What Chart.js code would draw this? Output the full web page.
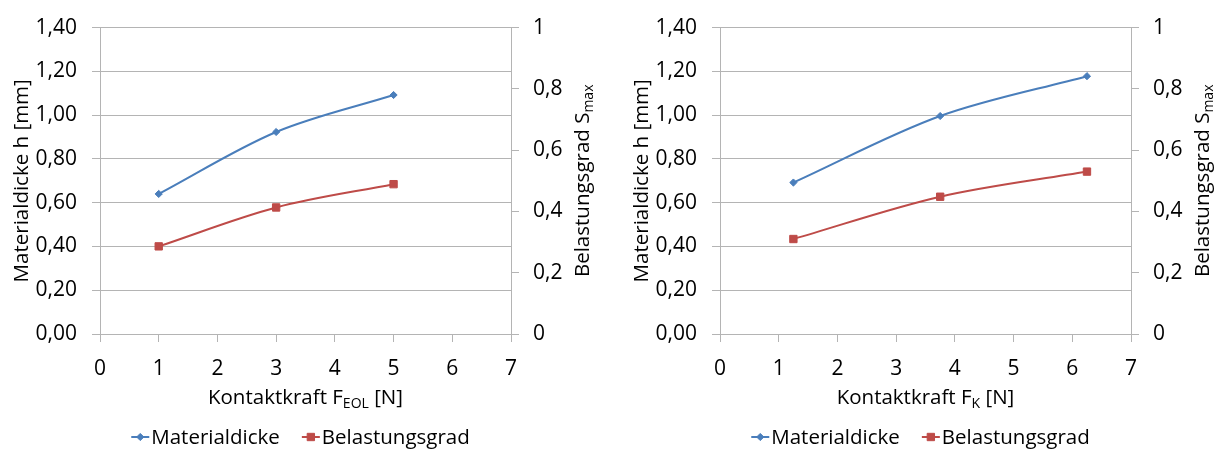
<!DOCTYPE html>
<html>
<head>
<meta charset="utf-8">
<script src="https://cdn.jsdelivr.net/npm/chart.js@4.4.1/dist/chart.umd.min.js"></script>
<style>
  html, body { margin: 0; padding: 0; background: #ffffff; }
  #wrap { position: relative; width: 1220px; height: 450px; overflow: hidden; }
  canvas { position: absolute; top: 0; }
</style>
</head>
<body>
<div id="wrap">
  <canvas id="chartEOL" width="610" height="450" style="left:0px"></canvas>
  <canvas id="chartK" width="610" height="450" style="left:610px"></canvas>
</div>
<script>
// Contact force at end of life (left) and contact force F_K (right), in N
const forceEOL = [1, 3, 5];
const forceK = [1.25, 3.75, 6.25];

// Material thickness h in mm
const thicknessEOL = [0.64, 0.923, 1.092];
const thicknessK = [0.692, 0.996, 1.178];

// Load ratio S_max (dimensionless, right axis)
const loadEOL = [0.286, 0.413, 0.489];
const loadK = [0.31, 0.448, 0.53];

// Axis tick values
const xTicks = [0, 1, 2, 3, 4, 5, 6, 7];
const hTicks = [0, 0.2, 0.4, 0.6, 0.8, 1.0, 1.2, 1.4];
const sTicks = [0, 0.2, 0.4, 0.6, 0.8, 1.0];

// Labels
const seriesNames = ['Materialdicke', 'Belastungsgrad'];
const yTitleLeft = 'Materialdicke h [mm]';
const yTitleRight = ['Belastungsgrad S', 'max'];
const xTitleEOL = ['Kontaktkraft F', 'EOL', ' [N]'];
const xTitleK = ['Kontaktkraft F', 'K', ' [N]'];

const FONT = "'Open Sans', sans-serif";
const FS = 21;
const TITLE_FS = 20.5;
const SUB_FS = 14;
const TEXT = '#000000';
const GRID = '#b4b4b4';
const BLUE = '#4a7ebb';
const RED = '#be4b48';

function commaFixed(v, d) { return v.toFixed(d).replace('.', ','); }

// Draws a text run made of normal / subscript parts, centred at the origin along x
function drawRuns(ctx, parts) {
  const runs = parts.map((t, i) => ({ t, sub: (i % 2 === 1) }));
  let total = 0;
  runs.forEach(r => {
    ctx.font = (r.sub ? SUB_FS : TITLE_FS) + 'px ' + FONT;
    r.w = ctx.measureText(r.t).width;
    total += r.w;
  });
  let x = -total / 2;
  ctx.textAlign = 'left';
  ctx.textBaseline = 'middle';
  runs.forEach(r => {
    ctx.font = (r.sub ? SUB_FS : TITLE_FS) + 'px ' + FONT;
    ctx.fillText(r.t, x, r.sub ? 6 : 0);
    x += r.w;
  });
}

const axisTitlePlugin = {
  id: 'axisTitlesSub',
  afterDraw(chart, args, opts) {
    const ctx = chart.ctx;
    const a = chart.chartArea;
    const cy = (a.top + a.bottom) / 2;
    ctx.save();
    ctx.fillStyle = TEXT;
    // left axis title
    ctx.save();
    ctx.translate(a.left + opts.leftTitleDx, cy);
    ctx.rotate(-Math.PI / 2);
    drawRuns(ctx, [opts.left]);
    ctx.restore();
    // right axis title
    ctx.save();
    ctx.translate(a.right + opts.rightTitleDx, cy);
    ctx.rotate(-Math.PI / 2);
    drawRuns(ctx, opts.right);
    ctx.restore();
    // x axis title
    ctx.save();
    ctx.translate((a.left + a.right) / 2, a.bottom + opts.xTitleDy);
    drawRuns(ctx, opts.x);
    ctx.restore();
    ctx.restore();
  }
};

const legendPlugin = {
  id: 'lineLegend',
  afterDraw(chart, args, opts) {
    const ctx = chart.ctx;
    const a = chart.chartArea;
    const sampleW = 18, textGap = 2, itemGap = 22;
    ctx.save();
    ctx.font = TITLE_FS + 'px ' + FONT;
    const items = chart.data.datasets.map(ds => ({ ds, w: ctx.measureText(ds.label).width }));
    let total = 0;
    items.forEach((it, i) => { total += sampleW + textGap + it.w + (i ? itemGap : 0); });
    let x = (a.left + a.right) / 2 + opts.dx - total / 2;
    const y = opts.y;
    items.forEach(it => {
      const ds = it.ds;
      ctx.strokeStyle = ds.borderColor;
      ctx.lineWidth = 2;
      ctx.beginPath();
      ctx.moveTo(x, y);
      ctx.lineTo(x + sampleW, y);
      ctx.stroke();
      ctx.fillStyle = ds.pointBackgroundColor;
      ctx.strokeStyle = ds.pointBorderColor;
      ctx.lineWidth = 1;
      Chart.helpers.drawPoint(ctx, { pointStyle: ds.pointStyle, radius: ds.pointRadius, rotation: 0, borderWidth: 1 }, x + sampleW / 2, y);
      ctx.fillStyle = TEXT;
      ctx.textAlign = 'left';
      ctx.textBaseline = 'middle';
      ctx.fillText(ds.label, x + sampleW + textGap, y + 1);
      x += sampleW + textGap + it.w + itemGap;
    });
    ctx.restore();
  }
};

function toPoints(xs, ys) { return xs.map((x, i) => ({ x, y: ys[i] })); }

function makeChart(id, xs, hs, ss, xTitle, geo) {
  const tickFont = { family: FONT, size: FS };
  return new Chart(document.getElementById(id), {
    type: 'line',
    data: {
      datasets: [
        {
          label: seriesNames[0], data: toPoints(xs, hs), yAxisID: 'y',
          borderColor: BLUE, backgroundColor: BLUE, borderWidth: 2,
          pointStyle: 'rectRot', pointRadius: 3.6, pointHoverRadius: 3.6,
          pointBackgroundColor: BLUE, pointBorderColor: BLUE, pointBorderWidth: 1,
          tension: 0.33, fill: false
        },
        {
          label: seriesNames[1], data: toPoints(xs, ss), yAxisID: 'y1',
          borderColor: RED, backgroundColor: RED, borderWidth: 2,
          pointStyle: 'rect', pointRadius: 5.2, pointHoverRadius: 5.2,
          pointBackgroundColor: RED, pointBorderColor: RED, pointBorderWidth: 1,
          tension: 0.33, fill: false
        }
      ]
    },
    options: {
      responsive: false,
      animation: false,
      devicePixelRatio: 1,
      layout: { padding: { top: geo.top, left: geo.padLeft, right: geo.padRight, bottom: geo.padBottom } },
      plugins: {
        legend: { display: false },
        tooltip: { enabled: false },
        axisTitlesSub: { left: yTitleLeft, right: yTitleRight, x: xTitle, leftTitleDx: geo.leftTitleDx, rightTitleDx: geo.rightTitleDx, xTitleDy: geo.xTitleDy },
        lineLegend: { y: geo.legendY, dx: geo.legendDx }
      },
      scales: {
        x: {
          type: 'linear', min: xTicks[0], max: xTicks[xTicks.length - 1],
          afterBuildTicks: s => { s.ticks = xTicks.map(v => ({ value: v })); },
          afterFit: s => { s.height = geo.xHeight; },
          grid: { drawOnChartArea: false, drawTicks: true, tickLength: 8, color: GRID, lineWidth: 1 },
          border: { display: true, color: GRID, width: 1 },
          ticks: { font: tickFont, color: TEXT, padding: 14, maxRotation: 0, callback: v => String(v) }
        },
        y: {
          type: 'linear', position: 'left', min: hTicks[0], max: hTicks[hTicks.length - 1],
          afterBuildTicks: s => { s.ticks = hTicks.map(v => ({ value: v })); },
          afterFit: s => { s.width = geo.yWidth; },
          grid: { drawOnChartArea: true, drawTicks: true, tickLength: 8, color: GRID, lineWidth: 1 },
          border: { display: true, color: GRID, width: 1 },
          ticks: { font: tickFont, color: TEXT, padding: 15, callback: v => commaFixed(v, 2) }
        },
        y1: {
          type: 'linear', position: 'right', min: sTicks[0], max: sTicks[sTicks.length - 1],
          afterBuildTicks: s => { s.ticks = sTicks.map(v => ({ value: v })); },
          afterFit: s => { s.width = geo.y1Width; },
          grid: { drawOnChartArea: false, drawTicks: true, tickLength: 8, color: GRID, lineWidth: 1 },
          border: { display: true, color: GRID, width: 1 },
          ticks: { font: tickFont, color: TEXT, padding: 14, callback: v => String(Math.round(v * 10) / 10).replace('.', ',') }
        }
      }
    },
    plugins: [axisTitlePlugin, legendPlugin]
  });
}

makeChart('chartEOL', forceEOL, thicknessEOL, loadEOL, xTitleEOL, {
  top: 20, padLeft: 0, padRight: 0, padBottom: 66, xHeight: 50,
  yWidth: 100, y1Width: 99,
  leftTitleDx: -78, rightTitleDx: 72, xTitleDy: 64, legendY: 437, legendDx: -5
});

makeChart('chartK', forceK, thicknessK, loadK, xTitleK, {
  top: 20, padLeft: 10, padRight: 0, padBottom: 66, xHeight: 50,
  yWidth: 100, y1Width: 89,
  leftTitleDx: -78, rightTitleDx: 72, xTitleDy: 64, legendY: 437, legendDx: -5
});
</script>
</body>
</html>
